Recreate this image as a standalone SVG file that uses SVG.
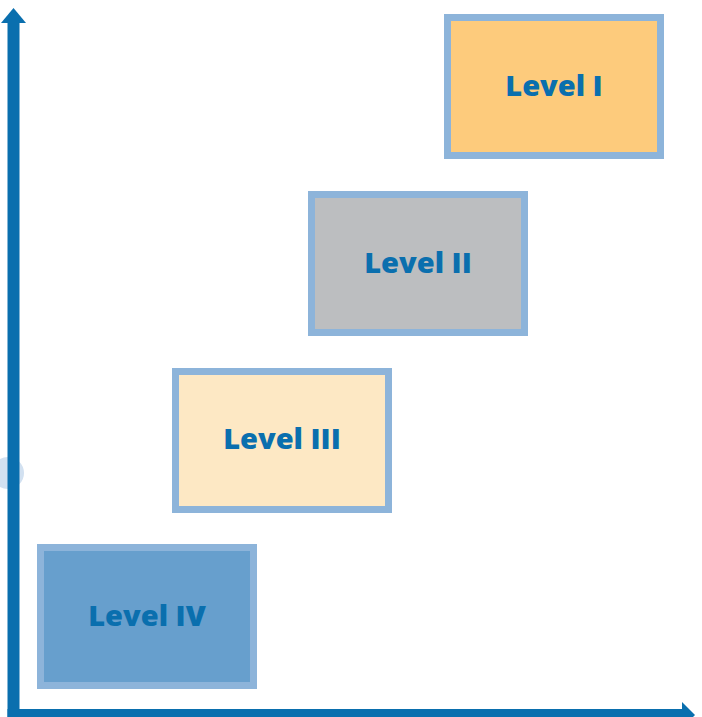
<svg xmlns="http://www.w3.org/2000/svg" width="702" height="717" viewBox="0 0 702 717">
<style>
.box{stroke:#8db4da;stroke-width:7}
.lbl{font-family:"Open Sans","Noto Sans",sans-serif;font-weight:800;font-size:29px;fill:#0a6fae;text-anchor:middle}
.axis{fill:#0a6fae}
</style>
<rect width="702" height="717" fill="#ffffff"/>
<circle cx="8" cy="473" r="16" fill="#d2e1f1"/>
<g id="connectors">
<rect class="axis" x="7.5" y="20" width="12" height="697"/>
<polygon class="axis" points="13.5,8 1,23 26,23"/>
<rect class="axis" x="7.5" y="709" width="678" height="12"/>
<polygon class="axis" points="682,702 695,715 682,728"/>
</g>
<g id="level1">
<rect class="box" x="447.5" y="17.5" width="213" height="138" fill="#fdcb7c"/>
<text class="lbl" x="554" y="96">Level I</text>
</g>
<g id="level2">
<rect class="box" x="311.5" y="194.5" width="213" height="138" fill="#bcbec0"/>
<text class="lbl" x="418" y="273">Level II</text>
</g>
<g id="level3">
<rect class="box" x="175.5" y="371.5" width="213" height="138" fill="#fde8c4"/>
<text class="lbl" x="282" y="449">Level III</text>
</g>
<g id="level4">
<rect class="box" x="40.5" y="547.5" width="213" height="138" fill="#679fcd"/>
<text class="lbl" x="147" y="626">Level IV</text>
</g>
</svg>
